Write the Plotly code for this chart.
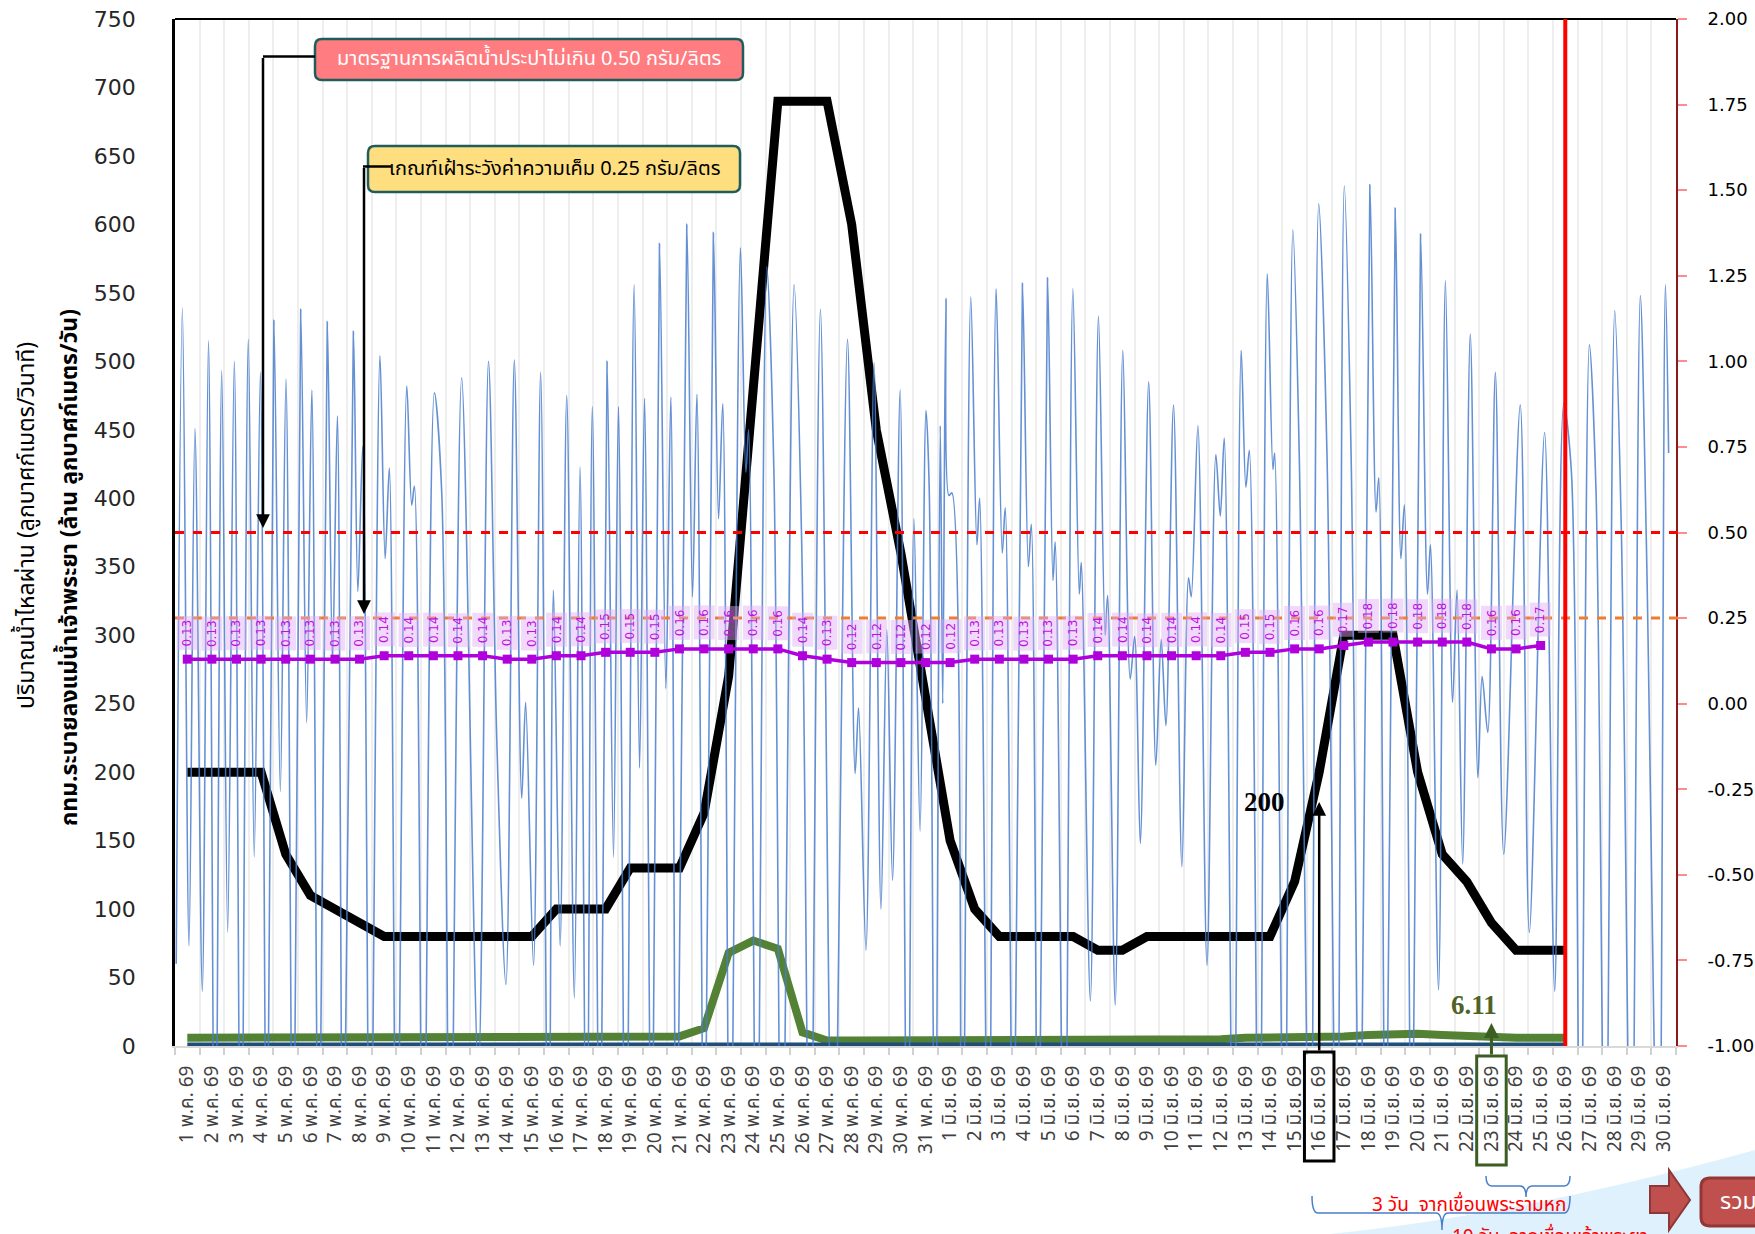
import plotly.graph_objects as go

# ---------------- data ----------------
may_days = list(range(1, 32))
jun_days = list(range(1, 31))
dates = [f"{d} พ.ค. 69" for d in may_days] + [f"{d} มิ.ย. 69" for d in jun_days]
today = "26 มิ.ย. 69"

# เขื่อนเจ้าพระยา discharge (m3/s), daily from 1 May
chao_phraya = [200, 200, 200, 200, 140, 110, 100, 90, 80, 80,
               80, 80, 80, 80, 80, 100, 100, 100, 130, 130,
               130, 170, 270, 480, 690, 690, 690, 600, 450, 360,
               255, 150, 100, 80, 80, 80, 80, 70, 70, 80,
               80, 80, 80, 80, 80, 120, 200, 300, 300, 300,
               200, 140, 120, 90, 70, 70, 70]

# เขื่อนพระรามหก discharge (m3/s), daily from 1 May
rama6 = [6, 6, 6, 6, 6, 6, 6, 6, 6, 6,
         6, 6, 6, 6, 6, 6, 6, 6, 6, 7,
         7, 13, 68, 77, 71, 10, 4, 4, 4, 4,
         4, 5, 5, 5, 5, 5, 5, 5, 5, 5,
         5, 5, 5, 6, 6, 6, 6, 7, 8, 9,
         9, 8, 7, 6.11, 6, 6, 6]

# กทม. drainage to the river (million m3/day)
bma = [0.4, 0.4, 0.4, 0.4, 0.4, 0.4, 0.4, 0.4, 0.4, 0.4,
       0.4, 0.4, 0.4, 0.4, 0.4, 0.4, 0.4, 0.4, 0.4, 0.4,
       0.4, 0.4, 0.4, 0.4, 0.4, 0.4, 0.4, 0.4, 0.4, 0.4,
       0.4, 0.4, 0.4, 0.4, 0.4, 0.4, 0.4, 0.4, 0.4, 0.4,
       0.4, 0.4, 0.4, 0.4, 0.4, 0.4, 0.4, 0.4, 0.4, 0.4,
       0.4, 0.4, 0.4, 0.4, 0.4, 0.4, 0.4]

# salinity (g/l), daily from 1 May
salinity = [0.13, 0.13, 0.13, 0.13, 0.13, 0.13, 0.13, 0.13, 0.14, 0.14,
            0.14, 0.14, 0.14, 0.13, 0.13, 0.14, 0.14, 0.15, 0.15, 0.15,
            0.16, 0.16, 0.16, 0.16, 0.16, 0.14, 0.13, 0.12, 0.12, 0.12,
            0.12, 0.12, 0.13, 0.13, 0.13, 0.13, 0.13, 0.14, 0.14, 0.14,
            0.14, 0.14, 0.14, 0.15, 0.15, 0.16, 0.16, 0.17, 0.18, 0.18,
            0.18, 0.18, 0.18, 0.16, 0.16, 0.17]

# tidal flow: turning points (day position, m3/s)
tide_day = [-0.45, -0.20, 0.07, 0.31, 0.61, 0.86, 1.13, 1.40, 1.64, 1.91,
            2.18, 2.48, 2.72, 2.97, 3.24, 3.52, 3.78, 4.01, 4.31, 4.61,
            4.85, 5.06, 5.35, 5.69, 5.90, 6.10, 6.34, 6.75, 6.93, 7.13,
            7.43, 7.83, 8.04, 8.21, 8.51, 8.92, 9.12, 9.23, 9.59, 10.04,
            10.34, 10.68, 11.15, 11.83, 12.24, 12.58, 12.95, 13.29, 13.59, 13.75,
            14.07, 14.36, 14.68, 14.88, 15.15, 15.42, 15.73, 15.96, 16.23, 16.46,
            16.78, 17.06, 17.32, 17.52, 17.82, 18.16, 18.38, 18.58, 18.88, 19.19,
            19.45, 19.65, 19.89,
            20.30, 20.53, 20.71, 21.02, 21.38, 21.59, 21.76, 22.06, 22.48, 22.70,
            22.81, 23.14, 23.55, 23.84, 24.16, 24.66, 24.97, 25.31, 25.73, 26.25,
            26.83, 27.14, 27.28, 27.58, 27.91, 28.19, 28.43, 28.66, 28.97, 29.27,
            29.53, 29.78, 30.02, 30.15, 30.39, 30.60, 30.70, 30.83, 30.95, 31.07,
            31.48, 31.84, 32.09, 32.20, 32.56, 32.87, 33.12, 33.24, 33.58, 33.94,
            34.18, 34.30, 34.59, 34.96, 35.18, 35.27, 35.65, 35.99, 36.25, 36.33,
            36.70, 37.03, 37.30, 37.40, 37.71, 38.02, 38.32, 38.50, 38.73, 39.07,
            39.36, 39.58, 39.77, 40.08,
            40.42, 40.69, 40.80, 41.07, 41.44, 41.80, 41.98, 42.14, 42.52, 42.83,
            43.02, 43.16, 43.56, 43.89, 44.12, 44.19, 44.58, 44.93, 45.19, 45.64,
            45.98, 46.32, 46.72, 47.02, 47.30, 47.67, 48.06, 48.31, 48.42, 48.71,
            49.09, 49.32, 49.46, 49.77, 50.12, 50.40, 50.52, 50.85, 51.13, 51.42,
            51.60, 51.83, 52.14, 52.45, 52.62, 52.85, 53.16, 53.50, 54.17, 54.54,
            55.16, 55.57, 55.94, 56.25, 56.61, 56.98, 57.25, 57.63, 58.01, 58.28,
            58.69, 59.05, 59.30, 59.80, 60.07, 60.20]
tide_flow = [60, 539, 73, 451, 40, 515, -150, 493, 83, 500,
             -150, 516, 138, 492, -150, 530, 186, 487, -150, 538,
             236, 479, -150, 529, 280, 460, -150, 522, 332, 438,
             -150, 504, 356, 422, -150, 482, 395, 409, -150, 477,
             404, -150, 488, -20, 500, 222, 45, 501, 181, 251,
             59, 492, -150, 333, 73, 475, 35, 423, -150, 467,
             -150, 500, 138, 467, -150, 556, 203, 473, -150, 586,
             261, 474, -150,
             600, 328, 476, -150, 594, 385, 469, -150, 583, 419,
             450, -150, 569, 419, -150, 556, 366, -150, 538, -150,
             516, 199, 247, 70, 499, 100, 304, 121, 479, -150,
             385, 157, 464, 408, -150, 453, 250, 546, 402, 404,
             -150, 547, 366, 400, -150, 553, 360, 393, -150, 557,
             350, 381, -150, 561, 340, 368, -150, 553, 330, 353,
             33, 533, 300, 329, 30, 508, 268, 299, 148, 485,
             205, 297, 234, 468,
             131, 342, 328, 453, 59, 432, 387, 444, -150, 508,
             408, 435, -150, 564, 421, 433, -150, 596, 431, -150,
             615, 429, -150, 628, 428, -150, 629, 390, 415, -150,
             612, 356, 395, -150, 593, 330, 366, 41, 559, 251,
             333, 133, 520, 196, 270, 229, 492, 140, 468, 83,
             448, 40, 469, 419, -150, 512, 405, -150, 537, 376,
             -150, 548, 364, -150, 556, 433]

standard_limit = 0.50
watch_limit = 0.25
right_ticks = [-1.0, -0.75, -0.5, -0.25, 0.0, 0.25, 0.5, 0.75, 1.0, 1.25, 1.5, 1.75, 2.0]

# ---------------- page geometry ----------------
W, H = 1755, 1234
ML, MR, MT, MB = 175, 79, 19, 188
PW, PH = W - ML - MR, H - MT - MB
THAI = "Tahoma, 'Noto Sans Thai', 'Leelawadee UI', 'DejaVu Sans', sans-serif"


def fx(x):
    return (x - ML) / PW


def fy(y):
    return (H - MB - y) / PH


def rrect(x0, y0, x1, y1, r):
    p = f"M{fx(x0 + r)},{fy(y0)} L{fx(x1 - r)},{fy(y0)} Q{fx(x1)},{fy(y0)} {fx(x1)},{fy(y0 + r)} "
    p += f"L{fx(x1)},{fy(y1 - r)} Q{fx(x1)},{fy(y1)} {fx(x1 - r)},{fy(y1)} "
    p += f"L{fx(x0 + r)},{fy(y1)} Q{fx(x0)},{fy(y1)} {fx(x0)},{fy(y1 - r)} "
    p += f"L{fx(x0)},{fy(y0 + r)} Q{fx(x0)},{fy(y0)} {fx(x0 + r)},{fy(y0)} Z"
    return p


def brace(xa, xb, xm, y0, y1, y2):
    p = f"M{fx(xa)},{fy(y0)} Q{fx(xa)},{fy(y1)} {fx(xa + 6)},{fy(y1)} L{fx(xm - 6)},{fy(y1)} "
    p += f"Q{fx(xm)},{fy(y1)} {fx(xm)},{fy(y2)} Q{fx(xm)},{fy(y1)} {fx(xm + 6)},{fy(y1)} "
    p += f"L{fx(xb - 6)},{fy(y1)} Q{fx(xb)},{fy(y1)} {fx(xb)},{fy(y0)}"
    return p


fig = go.Figure()

fig.add_trace(go.Scatter(x=list(range(len(chao_phraya))), y=chao_phraya, mode='lines',
                         line=dict(color='black', width=9), name='เขื่อนเจ้าพระยา'))
fig.add_trace(go.Scatter(x=list(range(len(rama6))), y=rama6, mode='lines',
                         line=dict(color='#548235', width=8), name='เขื่อนพระรามหก'))
fig.add_trace(go.Scatter(x=list(range(len(bma))), y=bma, mode='lines',
                         line=dict(color='#1F4E79', width=6), name='กทม.'))
fig.add_trace(go.Scatter(x=tide_day, y=tide_flow, mode='lines',
                         line=dict(color='rgba(74,126,204,0.85)', width=1.6, shape='spline', smoothing=0.9),
                         name='น้ำขึ้นน้ำลง'))
fig.add_trace(go.Scatter(x=list(range(len(salinity))), y=salinity, yaxis='y2', mode='lines+markers',
                         line=dict(color='#B000DC', width=3.5),
                         marker=dict(symbol='square', size=9, color='#B000DC'), name='ความเค็ม'))

shapes = [
    dict(type='line', xref='paper', yref='paper', x0=0, x1=1, y0=1, y1=1,
         line=dict(color='black', width=2)),
    dict(type='line', xref='paper', yref='y2', x0=0, x1=1.005, y0=standard_limit, y1=standard_limit,
         line=dict(color='#FF0000', width=3, dash='dash')),
    dict(type='line', xref='paper', yref='y2', x0=0, x1=1.005, y0=watch_limit, y1=watch_limit,
         line=dict(color='#ED7D31', width=3, dash='dash')),
    dict(type='line', xref='x', yref='paper', x0=dates.index(today), x1=dates.index(today), y0=0, y1=1,
         line=dict(color='#FF0000', width=4)),
    # threshold call-out boxes and elbows
    dict(type='path', xref='paper', yref='paper', path=rrect(315, 39, 743, 80, 7),
         fillcolor='#FF7C80', line=dict(color='#1F5C5C', width=2.5)),
    dict(type='path', xref='paper', yref='paper', path=rrect(368, 146, 740, 192, 7),
         fillcolor='#FFDE7F', line=dict(color='#1F5C5C', width=2.5)),
    dict(type='line', xref='paper', yref='paper', x0=fx(263), x1=fx(315), y0=fy(56.5), y1=fy(56.5),
         line=dict(color='black', width=2.5)),
    dict(type='line', xref='paper', yref='paper', x0=fx(363), x1=fx(391), y0=fy(166.5), y1=fy(166.5),
         line=dict(color='black', width=2.5)),
    # boxes around date labels
    dict(type='rect', xref='x', yref='paper', x0=46 - 0.6, x1=46 + 0.6, y0=fy(1052), y1=fy(1161),
         line=dict(color='black', width=3)),
    dict(type='rect', xref='x', yref='paper', x0=53 - 0.6, x1=53 + 0.6, y0=fy(1056), y1=fy(1165),
         line=dict(color='#3B5E23', width=3)),
    # travel time braces
    dict(type='path', xref='paper', yref='paper', path=brace(1486, 1570, 1526, 1176, 1186, 1197),
         line=dict(color='#4A7EC8', width=1.5)),
    dict(type='path', xref='paper', yref='paper', path=brace(1312, 1570, 1442, 1196, 1213, 1230),
         line=dict(color='#4A7EC8', width=1.5)),
    # decoration bottom right
    dict(type='path', xref='paper', yref='paper', layer='below',
         path=f"M{fx(1330)},{fy(1234)} Q{fx(1520)},{fy(1215)} {fx(1755)},{fy(1150)} L{fx(1755)},{fy(1234)} Z",
         fillcolor='rgba(200,232,250,0.6)', line=dict(width=0)),
    dict(type='path', xref='paper', yref='paper',
         path=f"M{fx(1650)},{fy(1186)} L{fx(1669)},{fy(1186)} L{fx(1669)},{fy(1170)} L{fx(1690)},{fy(1200)} "
              f"L{fx(1669)},{fy(1230)} L{fx(1669)},{fy(1213)} L{fx(1650)},{fy(1213)} Z",
         fillcolor='#C0504D', line=dict(color='#8C3836', width=2)),
    dict(type='path', xref='paper', yref='paper', path=rrect(1701, 1178, 1775, 1226, 9),
         fillcolor='#C0504D', line=dict(color='#943634', width=3)),
]

C = dict(xanchor='center', yanchor='middle')
annotations = [
    dict(xref='paper', yref='paper', x=fx(27), y=fy(526), text='ปริมาณน้ำไหลผ่าน (ลูกบาศก์เมตร/วินาที)',
         textangle=-90, showarrow=False, font=dict(family=THAI, size=23, color='black'), **C),
    dict(xref='paper', yref='paper', x=fx(70), y=fy(568),
         text='<b>กทม.ระบายลงแม่น้ำเจ้าพระยา (ล้าน ลูกบาศก์เมตร/วัน)</b>',
         textangle=-90, showarrow=False, font=dict(family=THAI, size=23, color='black'), **C),
    dict(xref='paper', yref='paper', x=fx(529), y=fy(59.5), text='มาตรฐานการผลิตน้ำประปาไม่เกิน 0.50 กรัม/ลิตร',
         showarrow=False, font=dict(family=THAI, size=20, color='white'), **C),
    dict(xref='paper', yref='paper', x=fx(554), y=fy(169), text='เกณฑ์เฝ้าระวังค่าความเค็ม 0.25 กรัม/ลิตร',
         showarrow=False, font=dict(family=THAI, size=20, color='black'), **C),
    dict(xref='paper', yref='paper', x=fx(263), y=fy(528), text='', showarrow=True, ax=0, ay=56.5 - 528,
         arrowhead=2, arrowsize=1.1, arrowwidth=2.5, arrowcolor='black', standoff=0),
    dict(xref='paper', yref='paper', x=fx(364), y=fy(614), text='', showarrow=True, ax=0, ay=166.5 - 614,
         arrowhead=2, arrowsize=1.1, arrowwidth=2.5, arrowcolor='black', standoff=0),
    dict(xref='x', yref='paper', x=46, y=fy(802), text='', showarrow=True, ax=0, ay=1052 - 802,
         arrowhead=2, arrowsize=1.1, arrowwidth=2.5, arrowcolor='black', standoff=0),
    dict(xref='x', yref='paper', x=46, y=fy(802), xshift=-55, text='<b>200</b>', showarrow=False,
         font=dict(family='Liberation Serif', size=27, color='black'), **C),
    dict(xref='x', yref='paper', x=53, y=fy(1023), text='', showarrow=True, ax=0, ay=1056 - 1023,
         arrowhead=2, arrowsize=1, arrowwidth=3, arrowcolor='#3B5E23', standoff=0),
    dict(xref='x', yref='paper', x=53, y=fy(1005), xshift=-17, text=f'<b>{rama6[53]:.2f}</b>', showarrow=False,
         font=dict(family='Liberation Serif', size=27, color='#4F6228'), **C),
    dict(xref='paper', yref='paper', x=fx(1568), y=fy(1205), xanchor='right', yanchor='middle',
         text='3 วัน  จากเขื่อนพระรามหก', showarrow=False, font=dict(family=THAI, size=19, color='#FF0000')),
    dict(xref='paper', yref='paper', x=fx(1450), y=fy(1221), xanchor='left', yanchor='top',
         text='10 วัน  จากเขื่อนเจ้าพระยา', showarrow=False, font=dict(family=THAI, size=19, color='#FF0000')),
    dict(xref='paper', yref='paper', x=fx(1738), y=fy(1202), text='รวม', showarrow=False,
         font=dict(family=THAI, size=23, color='white'), **C),
]

for i, v in enumerate(salinity):
    annotations.append(dict(xref='x', yref='y2', x=i, y=v, yshift=26, text=f"{v:.2f}", textangle=-90,
                            showarrow=False, bgcolor='rgba(222,170,245,0.45)', borderpad=3,
                            font=dict(family='DejaVu Sans', size=12, color='#C010E0'), **C))

fig.update_layout(
    width=W, height=H, autosize=False, showlegend=False,
    margin=dict(l=ML, r=MR, t=MT, b=MB),
    paper_bgcolor='white', plot_bgcolor='white',
    xaxis=dict(range=[-0.5, len(dates) - 0.5], tickmode='array', tickvals=list(range(len(dates))),
               ticktext=dates, tickangle=-90, ticks='', showgrid=False, zeroline=False, automargin=False,
               showline=True, linecolor='#D9D9D9', linewidth=2, ticklabelstandoff=10,
               tickfont=dict(family=THAI, size=19, color='#404040'),
               minor=dict(tickmode='array', tickvals=[i - 0.5 for i in range(len(dates) + 1)],
                          ticks='outside', ticklen=7, tickcolor='#D0D0D0', tickwidth=1.5,
                          showgrid=True, gridcolor='#EEEEEE', gridwidth=1.5)),
    yaxis=dict(range=[0, 750], tick0=0, dtick=50, showgrid=False, zeroline=False, automargin=False,
               showline=True, linecolor='black', linewidth=2.5, ticks='', ticklabelstandoff=32,
               tickfont=dict(family='DejaVu Sans', size=22, color='#262626')),
    yaxis2=dict(range=[-1, 2], overlaying='y', side='right', tickmode='array', tickvals=right_ticks,
                ticktext=[f"{v:.2f}" for v in right_ticks], showgrid=False, zeroline=False, automargin=False,
                showline=True, linecolor='#8B1A1A', linewidth=2, ticks='outside', ticklen=9,
                tickcolor='#FF8C8C', tickwidth=1.5, ticklabelstandoff=17,
                tickfont=dict(family='DejaVu Sans', size=18, color='black')),
    shapes=shapes,
    annotations=annotations,
)

fig.write_html("out.html", config={'displayModeBar': False},
               post_script="document.body.style.margin='0';")
